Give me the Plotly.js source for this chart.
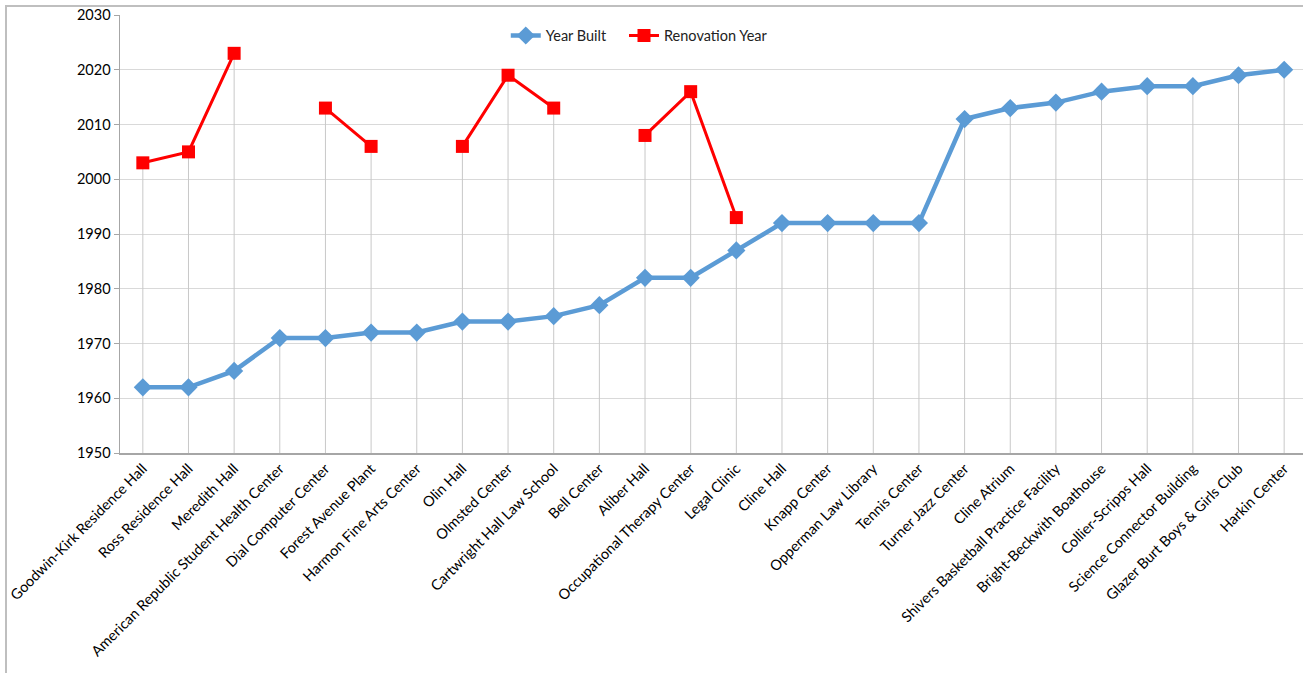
<!DOCTYPE html>
<html>
<head>
<meta charset="utf-8">
<script src="https://cdn.plot.ly/plotly-3.0.1.min.js"></script>
<style>
  html, body { margin: 0; padding: 0; background: #fff; overflow: hidden; }
  #wrap { position: relative; width: 1303px; height: 673px; overflow: hidden; }
  #chart { position: absolute; left: 0; top: 0; }
  #frame { position: absolute; left: 5px; top: 5px; width: 1320px; height: 700px;
           border: 2px solid #bfbfbf; pointer-events: none; box-sizing: border-box; }
</style>
</head>
<body>
<div id="wrap">
  <div id="chart"></div>
  <div id="frame"></div>
</div>
<script>
const categories = [
  "Goodwin-Kirk Residence Hall", "Ross Residence Hall", "Meredith Hall",
  "American Republic Student Health Center", "Dial Computer Center", "Forest Avenue Plant",
  "Harmon Fine Arts Center", "Olin Hall", "Olmsted Center", "Cartwright Hall Law School",
  "Bell Center", "Aliber Hall", "Occupational Therapy Center", "Legal Clinic",
  "Cline Hall", "Knapp Center", "Opperman Law Library", "Tennis Center",
  "Turner Jazz Center", "Cline Atrium", "Shivers Basketball Practice Facility",
  "Bright-Beckwith Boathouse", "Collier-Scripps Hall", "Science Connector Building",
  "Glazer Burt Boys & Girls Club", "Harkin Center"
];
const yearBuilt = [1962, 1962, 1965, 1971, 1971, 1972, 1972, 1974, 1974, 1975, 1977, 1982, 1982, 1987,
                   1992, 1992, 1992, 1992, 2011, 2013, 2014, 2016, 2017, 2017, 2019, 2020];
const renovationYear = [2003, 2005, 2023, null, 2013, 2006, null, 2006, 2019, 2013, null, 2008, 2016, 1993,
                        null, null, null, null, null, null, null, null, null, null, null, null];
const yTicks = [1950, 1960, 1970, 1980, 1990, 2000, 2010, 2020, 2030];
const axisMin = 1950, axisMax = 2030;

// drop lines from the highest point of each category to the axis
const dropX = [], dropY = [];
categories.forEach((c, i) => {
  const top = Math.max(yearBuilt[i], renovationYear[i] == null ? -Infinity : renovationYear[i]);
  dropX.push(i, i, null);
  dropY.push(top, axisMin, null);
});
const idx = categories.map((c, i) => i);

const traces = [
  { x: dropX, y: dropY, mode: 'lines', type: 'scatter', showlegend: false, hoverinfo: 'skip',
    line: { color: '#c8c8c8', width: 1 } },
  { x: idx, y: yearBuilt, name: 'Year Built', type: 'scatter', mode: 'lines+markers',
    legend: 'legend',
    line: { color: '#5b9bd5', width: 4.5 },
    marker: { symbol: 'diamond', size: 14, color: '#5b9bd5' } },
  { x: idx, y: renovationYear, name: 'Renovation Year', type: 'scatter', mode: 'lines+markers',
    legend: 'legend2', connectgaps: false,
    line: { color: '#ff0000', width: 3 },
    marker: { symbol: 'square', size: 13, color: '#ff0000' } }
];

const plotLeft = 120, plotTop = 15, plotBottom = 453;
const figW = 1307, figH = 673;
const legendFont = { size: 14.5, color: '#222' };

const layout = {
  width: figW, height: figH,
  margin: { l: plotLeft, r: 0, t: plotTop, b: figH - plotBottom, pad: 0 },
  paper_bgcolor: 'rgba(0,0,0,0)', plot_bgcolor: 'rgba(0,0,0,0)',
  font: { family: 'Lato, "Open Sans", sans-serif', color: '#000' },
  showlegend: true,
  legend: { orientation: 'h', x: 0.325, y: 0.953, xanchor: 'left', yanchor: 'middle',
            font: legendFont, bgcolor: 'rgba(0,0,0,0)', itemwidth: 30 },
  legend2: { orientation: 'h', x: 0.4246, y: 0.953, xanchor: 'left', yanchor: 'middle',
            font: legendFont, bgcolor: 'rgba(0,0,0,0)', itemwidth: 30 },
  xaxis: {
    range: [-0.5, categories.length - 0.5],
    tickmode: 'array', tickvals: idx, ticktext: categories,
    tickangle: -45, tickfont: { size: 14.5, color: '#000' },
    showgrid: false, zeroline: false,
    showline: true, linecolor: '#a6a6a6', linewidth: 1.5,
    ticks: '', fixedrange: true
  },
  yaxis: {
    range: [axisMin, axisMax],
    tickmode: 'array', tickvals: yTicks, ticktext: yTicks.map(String),
    tickfont: { size: 14.5, color: '#000' },
    showgrid: true, gridcolor: '#d9d9d9', gridwidth: 1,
    zeroline: false, showline: true, linecolor: '#a6a6a6', linewidth: 1.5,
    ticks: 'outside', ticklen: 5, tickcolor: '#a6a6a6', fixedrange: true
  },
  hovermode: false
};

Plotly.newPlot('chart', traces, layout, { staticPlot: true, displayModeBar: false });
</script>
</body>
</html>
